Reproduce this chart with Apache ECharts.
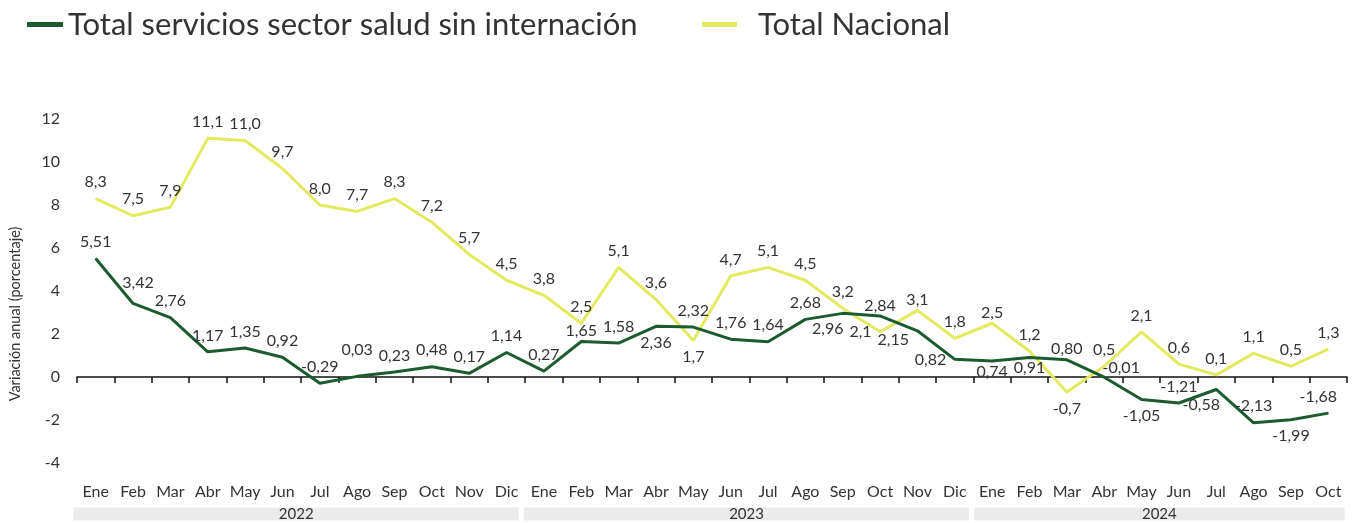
<!DOCTYPE html>
<html>
<head>
<meta charset="utf-8">
<script src="https://cdn.jsdelivr.net/npm/echarts@6/dist/echarts.min.js"></script>
<style>
  html, body { margin: 0; padding: 0; background: #fff; }
  #chart { width: 1356px; height: 523px; }
</style>
</head>
<body>
<div id="chart"></div>
<script>
// meses (3 años)
const meses = ['Ene','Feb','Mar','Abr','May','Jun','Jul','Ago','Sep','Oct','Nov','Dic',
  'Ene','Feb','Mar','Abr','May','Jun','Jul','Ago','Sep','Oct','Nov','Dic',
  'Ene','Feb','Mar','Abr','May','Jun','Jul','Ago','Sep','Oct'];
const anios = ['2022', '2023', '2024'];
const mesesPorAnio = [12, 12, 10];

const nombreSalud = 'Total servicios sector salud sin internación';
const nombreNacional = 'Total Nacional';

const salud = [5.51, 3.42, 2.76, 1.17, 1.35, 0.92, -0.29, 0.03, 0.23, 0.48, 0.17, 1.14,
  0.27, 1.65, 1.58, 2.36, 2.32, 1.76, 1.64, 2.68, 2.96, 2.84, 2.15, 0.82,
  0.74, 0.91, 0.80, -0.01, -1.05, -1.21, -0.58, -2.13, -1.99, -1.68];
const nacional = [8.3, 7.5, 7.9, 11.1, 11.0, 9.7, 8.0, 7.7, 8.3, 7.2, 5.7, 4.5,
  3.8, 2.5, 5.1, 3.6, 1.7, 4.7, 5.1, 4.5, 3.2, 2.1, 3.1, 1.8,
  2.5, 1.2, -0.7, 0.5, 2.1, 0.6, 0.1, 1.1, 0.5, 1.3];

const yTicks = [-4, -2, 0, 2, 4, 6, 8, 10, 12];

// donde va cada etiqueta
const posSalud = ['t','tr','t','t','t','t','t','tf','t','t','t','t',
  't','tc','t','b','t','t','t','t','bl','tc','lb','l',
  'bc','bc','tc','tr2','b','t','bl','t','b','tl'];
const posNacional = ['t','t','t','t','t','t','t','t','t','t','t','t',
  't','t','t','t','b','t','t','t','t','l','tc','t',
  'tc','t','b','t','t','t','t','t','t','t'];

const posMap = {
  t: { position: 'top' },
  tc: { position: 'top', distance: 2 },
  tf: { position: 'top', distance: 18 },
  tr: { position: 'top', offset: [5, -4] },
  tr2: { position: 'top', offset: [17, 7] },
  tl: { position: 'top', offset: [-10, 0] },
  b: { position: 'bottom' },
  bc: { position: 'bottom', distance: 2 },
  bl: { position: 'bottom', offset: [-15, -1] },
  l: { position: 'left' },
  lb: { position: 'left', offset: [0, 9] }
};
function conEtiquetas(valores, pos) {
  return valores.map((v, i) => ({ value: v, label: posMap[pos[i]] }));
}

const verde = '#1E5A30';
const amarillo = '#E3EA5F';
const fuente = 'Lato';
const textoColor = '#333';

let chart = echarts.init(document.getElementById('chart'));
let option = {
  animation: false,
  textStyle: { fontFamily: fuente },
  legend: [
    {
      left: 22, top: 4,
      icon: 'rect', itemWidth: 36, itemHeight: 5,
      data: [nombreSalud],
      textStyle: { fontSize: 31, color: textoColor, fontFamily: fuente, padding: [0, 0, 0, 0] }
    },
    {
      left: 697, top: 4,
      icon: 'rect', itemWidth: 35, itemHeight: 5,
      data: [nombreNacional],
      textStyle: { fontSize: 31, color: textoColor, fontFamily: fuente, padding: [0, 0, 0, 16] }
    }
  ],
  grid: [
    { left: 71, right: 9, top: 119, bottom: 60 },
    { left: 71, right: 9, top: 505, height: 18 }
  ],
  xAxis: [
    {
      // eje en el cero, con marcas
      type: 'category', gridIndex: 0, data: meses,
      axisLine: { onZero: true, lineStyle: { color: '#111', width: 1.5 } },
      axisTick: { show: true, length: 6, lineStyle: { color: '#111', width: 1.5 } },
      axisLabel: { show: false }
    },
    {
      // etiquetas de los meses abajo
      type: 'category', gridIndex: 0, data: meses, position: 'bottom',
      axisLine: { show: false, onZero: false }, axisTick: { show: false },
      axisLabel: { interval: 0, margin: 21, fontSize: 16, color: textoColor, fontFamily: fuente }
    },
    {
      type: 'value', gridIndex: 1, min: 0, max: meses.length,
      show: false
    }
  ],
  yAxis: [
    {
      type: 'value', gridIndex: 0, min: yTicks[0], max: yTicks[yTicks.length - 1], interval: 2,
      splitLine: { show: false }, axisLine: { show: false }, axisTick: { show: false },
      axisLabel: { margin: 17, fontSize: 16, color: textoColor, fontFamily: fuente },
      name: 'Variación anual (porcentaje)', nameLocation: 'middle', nameGap: 54,
      nameTextStyle: { fontSize: 14.5, color: textoColor, fontFamily: fuente, padding: [0, 46, 0, 0] }
    },
    {
      type: 'category', gridIndex: 1, data: ['años'], show: false
    }
  ],
  series: [
    {
      name: nombreSalud, type: 'line', xAxisIndex: 0, yAxisIndex: 0,
      data: conEtiquetas(salud, posSalud),
      symbol: 'circle', symbolSize: 1, showSymbol: true,
      lineStyle: { color: verde, width: 3 }, itemStyle: { color: verde },
      label: {
        show: true, distance: 8, fontSize: 16, color: textoColor, fontFamily: fuente,
        formatter: p => p.value.toFixed(2).replace('.', ',')
      },
      z: 3
    },
    {
      name: nombreNacional, type: 'line', xAxisIndex: 0, yAxisIndex: 0,
      data: conEtiquetas(nacional, posNacional),
      symbol: 'circle', symbolSize: 1, showSymbol: true,
      lineStyle: { color: amarillo, width: 3 }, itemStyle: { color: amarillo },
      label: {
        show: true, distance: 8, fontSize: 16, color: textoColor, fontFamily: fuente,
        formatter: p => p.value.toFixed(1).replace('.', ',')
      },
      z: 2
    }
  ].concat(anios.map((a, i) => ({
    // franjas grises de los años
    name: a, type: 'bar', stack: 'anios', xAxisIndex: 2, yAxisIndex: 1,
    data: [mesesPorAnio[i]], barWidth: '100%',
    itemStyle: { color: '#EBEBEB', borderColor: '#fff', borderWidth: 2.5 },
    label: { show: true, position: 'inside', formatter: a, fontSize: 15, color: textoColor, fontFamily: fuente },
    silent: true
  })))
};
chart.setOption(option);
</script>
</body>
</html>
